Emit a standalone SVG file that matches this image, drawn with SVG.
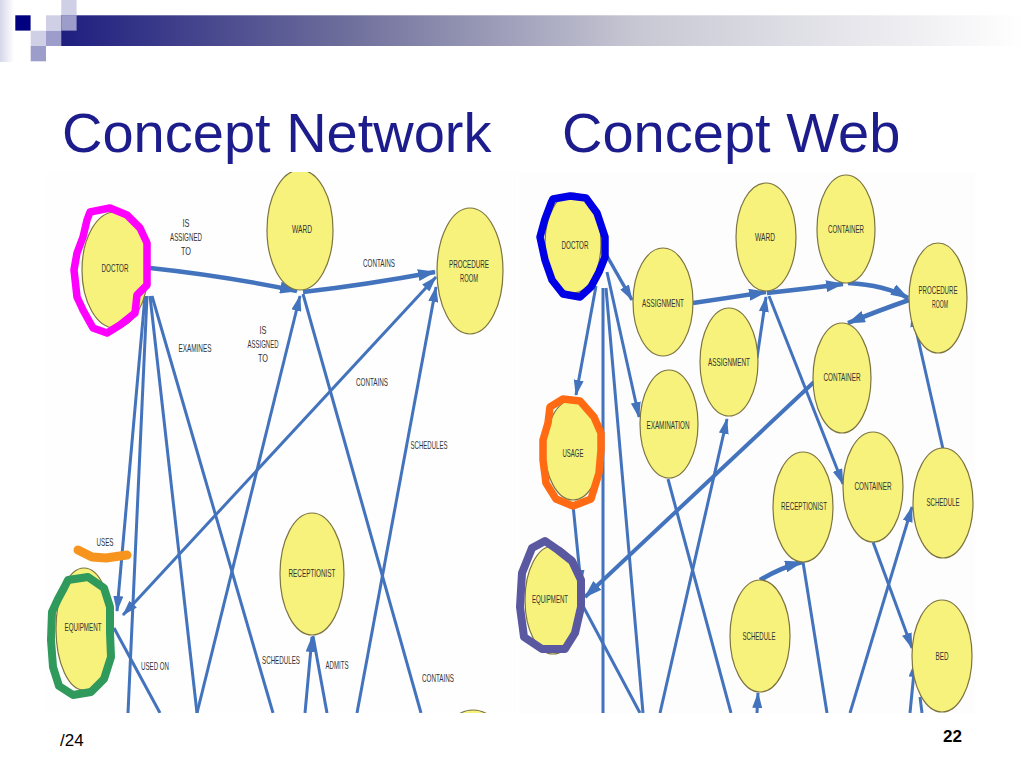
<svg xmlns="http://www.w3.org/2000/svg" width="1024" height="768" viewBox="0 0 1024 768">
<style>
.lb{font-family:"Liberation Sans",Arial,sans-serif;font-size:11px;fill:#333;text-anchor:middle}
.nd{fill:#f7f27b;stroke:#7d7440;stroke-width:1.2}
.ln{fill:none;stroke:#4373bd;stroke-width:3}
.tk{fill:none;stroke:#4373bd;stroke-width:4.5}
.hl{fill:none;stroke-width:7.5;stroke-linejoin:round;stroke-linecap:round}
.ttl{font-family:"Liberation Sans",Arial,sans-serif;font-size:56px;fill:#1c1c8c}
</style>
<defs>
<linearGradient id="bar" x1="0" y1="0" x2="1" y2="0">
<stop offset="0" stop-color="#1e1e80"/>
<stop offset="0.3" stop-color="#6f6f9c"/>
<stop offset="0.6" stop-color="#c8c8d4"/>
<stop offset="1" stop-color="#ffffff"/>
</linearGradient>
<linearGradient id="edge" x1="0" y1="0" x2="1" y2="0">
<stop offset="0" stop-color="#d6d6ea"/>
<stop offset="1" stop-color="#ffffff"/>
</linearGradient>
<marker id="ah" viewBox="0 0 16 10" refX="15" refY="5" markerWidth="16" markerHeight="10" orient="auto-start-reverse" markerUnits="userSpaceOnUse"><path d="M0,0 L16,5 L0,10 z" fill="#4373bd"/></marker>
<marker id="ahb" viewBox="0 0 18 12" refX="17" refY="6" markerWidth="18" markerHeight="12" orient="auto-start-reverse" markerUnits="userSpaceOnUse"><path d="M0,0 L18,6 L0,12 z" fill="#4373bd"/></marker>
<clipPath id="cl"><rect x="45" y="172" width="472" height="541"/></clipPath>
<clipPath id="cr"><rect x="519" y="172" width="456" height="541"/></clipPath>
</defs>
<rect width="1024" height="768" fill="#ffffff"/>
<g id="header">
<rect x="0" y="0" width="14" height="62" fill="url(#edge)"/>
<rect x="61" y="15.3" width="963" height="30.7" fill="url(#bar)"/>
<rect x="15.3" y="15.3" width="15.3" height="15.3" fill="#000080"/>
<rect x="46" y="15.3" width="15.3" height="15.3" fill="#cfcfe6"/>
<rect x="61.3" y="0" width="15.3" height="15.3" fill="#cfcfe6"/>
<rect x="61.3" y="15.3" width="15.3" height="15.3" fill="#9d9dcc"/>
<rect x="30.7" y="30.7" width="15.3" height="15.3" fill="#cfcfe6"/>
<rect x="46" y="30.7" width="15.3" height="15.3" fill="#9d9dcc"/>
<rect x="30.7" y="46" width="15.3" height="15.3" fill="#9d9dcc"/>
</g>
<text class="ttl" x="62" y="152">Concept Network</text>
<text class="ttl" x="562" y="152">Concept Web</text>

<g id="left-diagram" clip-path="url(#cl)">
<rect x="45" y="172" width="472" height="541" fill="#fefefe"/>
<g id="left-connectors">
<path class="tk" d="M150 268 Q225 276 297 291" marker-end="url(#ahb)"/>
<path class="tk" d="M303 292 Q365 285 435 272" marker-end="url(#ahb)"/>
<path class="ln" d="M145 296 L117 611" marker-end="url(#ah)"/>
<path class="ln" d="M147 296 L128 713"/>
<path class="ln" d="M150 296 L197 713"/>
<path class="ln" d="M152 296 L273 713"/>
<path class="ln" d="M197 713 L300 296" marker-end="url(#ah)"/>
<path class="ln" d="M303 294 L421 713"/>
<path class="ln" d="M123 615 L436 277" marker-start="url(#ah)" marker-end="url(#ah)"/>
<path class="ln" d="M357 713 L436 287" marker-end="url(#ah)"/>
<path class="ln" d="M305 713 L312 637" marker-end="url(#ah)"/>
<path class="ln" d="M313 636 L327 713"/>
<path class="ln" d="M114 628 L160 713"/>
</g>
<g id="l-doctor"><ellipse class="nd" cx="115" cy="270" rx="33" ry="58"/><text class="lb" x="115" y="272" textLength="27" lengthAdjust="spacingAndGlyphs">DOCTOR</text></g>
<g id="l-ward"><ellipse class="nd" cx="300" cy="230" rx="33" ry="60"/><text class="lb" x="302" y="233" textLength="20" lengthAdjust="spacingAndGlyphs">WARD</text></g>
<g id="l-procedure-room"><ellipse class="nd" cx="470" cy="271" rx="33" ry="63"/><text class="lb" x="469" y="268" textLength="40" lengthAdjust="spacingAndGlyphs">PROCEDURE</text><text class="lb" x="469" y="282" textLength="18" lengthAdjust="spacingAndGlyphs">ROOM</text></g>
<g id="l-receptionist"><ellipse class="nd" cx="312" cy="574" rx="32" ry="61"/><text class="lb" x="312" y="577" textLength="47" lengthAdjust="spacingAndGlyphs">RECEPTIONIST</text></g>
<g id="l-equipment"><ellipse class="nd" cx="84" cy="629" rx="28" ry="61"/><text class="lb" x="83" y="631" textLength="37" lengthAdjust="spacingAndGlyphs">EQUIPMENT</text></g>
<g id="l-partial"><ellipse class="nd" cx="473" cy="745" rx="30" ry="35"/></g>
<g id="left-labels">
<text class="lb" x="186" y="227" textLength="7" lengthAdjust="spacingAndGlyphs">IS</text>
<text class="lb" x="186" y="241" textLength="32" lengthAdjust="spacingAndGlyphs">ASSIGNED</text>
<text class="lb" x="186" y="255" textLength="10" lengthAdjust="spacingAndGlyphs">TO</text>
<text class="lb" x="379" y="267" textLength="32" lengthAdjust="spacingAndGlyphs">CONTAINS</text>
<text class="lb" x="195" y="352" textLength="33" lengthAdjust="spacingAndGlyphs">EXAMINES</text>
<text class="lb" x="263" y="334" textLength="7" lengthAdjust="spacingAndGlyphs">IS</text>
<text class="lb" x="263" y="348" textLength="31" lengthAdjust="spacingAndGlyphs">ASSIGNED</text>
<text class="lb" x="263" y="362" textLength="10" lengthAdjust="spacingAndGlyphs">TO</text>
<text class="lb" x="372" y="386" textLength="32" lengthAdjust="spacingAndGlyphs">CONTAINS</text>
<text class="lb" x="429" y="449" textLength="37" lengthAdjust="spacingAndGlyphs">SCHEDULES</text>
<text class="lb" x="105" y="546" textLength="17" lengthAdjust="spacingAndGlyphs">USES</text>
<text class="lb" x="155" y="670" textLength="28" lengthAdjust="spacingAndGlyphs">USED ON</text>
<text class="lb" x="281" y="664" textLength="38" lengthAdjust="spacingAndGlyphs">SCHEDULES</text>
<text class="lb" x="337" y="669" textLength="23" lengthAdjust="spacingAndGlyphs">ADMITS</text>
<text class="lb" x="438" y="682" textLength="32" lengthAdjust="spacingAndGlyphs">CONTAINS</text>
</g>
</g>

<g id="right-diagram" clip-path="url(#cr)">
<rect x="519" y="172" width="456" height="541" fill="#fdfdfd"/>
<g id="right-connectors">
<path class="ln" d="M607 256 L632 300" marker-end="url(#ah)" style="stroke-width:3.5"/>
<path class="ln" d="M596 286 L576 395" marker-end="url(#ah)"/>
<path class="ln" d="M607 272 L639 417" marker-end="url(#ah)"/>
<path class="ln" d="M603 288 L603 713"/>
<path class="ln" d="M606 288 L643 713"/>
<path class="ln" d="M573 505 L581 585" marker-end="url(#ah)"/>
<path class="ln" d="M583 606 L640 713"/>
<path class="ln" d="M660 713 L727 419" marker-end="url(#ah)"/>
<path class="ln" d="M668 479 L731 713"/>
<path class="tk" d="M814 382 L585 597" marker-end="url(#ahb)" style="stroke-width:4"/>
<path class="tk" d="M693 303 Q735 297 766 292" marker-end="url(#ahb)"/>
<path class="ln" d="M757 358 L766 297" marker-end="url(#ah)"/>
<path class="tk" d="M767 293 Q805 289 843 284" marker-end="url(#ahb)"/>
<path class="tk" d="M848 283 Q885 285 908 298" marker-end="url(#ahb)"/>
<path class="tk" d="M909 300 Q880 310 848 323" marker-end="url(#ahb)"/>
<path class="ln" d="M769 296 L843 484" marker-end="url(#ah)"/>
<path class="ln" d="M943 449 L912 312" marker-end="url(#ah)"/>
<path class="tk" d="M760 580 Q780 568 802 562" marker-end="url(#ahb)"/>
<path class="ln" d="M803 562 L827 713"/>
<path class="ln" d="M873 542 L912 648" marker-end="url(#ah)"/>
<path class="ln" d="M850 713 L912 507" marker-end="url(#ah)"/>
<path class="ln" d="M910 713 L915 662" marker-end="url(#ah)"/>
<path class="ln" d="M920 697 L922 713"/>
<path class="ln" d="M757 713 L758 693" marker-end="url(#ah)"/>
</g>
<g id="r-doctor"><ellipse class="nd" cx="573" cy="243" rx="28" ry="50"/><text class="lb" x="575" y="249" textLength="27" lengthAdjust="spacingAndGlyphs">DOCTOR</text></g>
<g id="r-assignment-1"><ellipse class="nd" cx="663" cy="302" rx="30" ry="54"/><text class="lb" x="663" y="307" textLength="42" lengthAdjust="spacingAndGlyphs">ASSIGNMENT</text></g>
<g id="r-assignment-2"><ellipse class="nd" cx="729" cy="362" rx="29" ry="54"/><text class="lb" x="729" y="366" textLength="42" lengthAdjust="spacingAndGlyphs">ASSIGNMENT</text></g>
<g id="r-examination"><ellipse class="nd" cx="669" cy="424" rx="29" ry="54"/><text class="lb" x="668" y="429" textLength="43" lengthAdjust="spacingAndGlyphs">EXAMINATION</text></g>
<g id="r-ward"><ellipse class="nd" cx="766" cy="237" rx="30" ry="54"/><text class="lb" x="765" y="241" textLength="20" lengthAdjust="spacingAndGlyphs">WARD</text></g>
<g id="r-usage"><ellipse class="nd" cx="573" cy="450" rx="28" ry="50"/><text class="lb" x="573" y="457" textLength="21" lengthAdjust="spacingAndGlyphs">USAGE</text></g>
<g id="r-container-1"><ellipse class="nd" cx="846" cy="229" rx="29" ry="54"/><text class="lb" x="846" y="233" textLength="36" lengthAdjust="spacingAndGlyphs">CONTAINER</text></g>
<g id="r-procedure-room"><ellipse class="nd" cx="938" cy="298" rx="29" ry="55"/><text class="lb" x="938" y="294" textLength="39" lengthAdjust="spacingAndGlyphs">PROCEDURE</text><text class="lb" x="940" y="308" textLength="16" lengthAdjust="spacingAndGlyphs">ROOM</text></g>
<g id="r-container-2"><ellipse class="nd" cx="842" cy="378" rx="29" ry="55"/><text class="lb" x="842" y="381" textLength="37" lengthAdjust="spacingAndGlyphs">CONTAINER</text></g>
<g id="r-receptionist"><ellipse class="nd" cx="803" cy="507" rx="30" ry="55"/><text class="lb" x="804" y="510" textLength="46" lengthAdjust="spacingAndGlyphs">RECEPTIONIST</text></g>
<g id="r-container-3"><ellipse class="nd" cx="873" cy="487" rx="30" ry="55"/><text class="lb" x="873" y="490" textLength="37" lengthAdjust="spacingAndGlyphs">CONTAINER</text></g>
<g id="r-schedule-1"><ellipse class="nd" cx="943" cy="503" rx="30" ry="55"/><text class="lb" x="943" y="506" textLength="33" lengthAdjust="spacingAndGlyphs">SCHEDULE</text></g>
<g id="r-bed"><ellipse class="nd" cx="942" cy="656" rx="30" ry="56"/><text class="lb" x="942" y="660" textLength="13" lengthAdjust="spacingAndGlyphs">BED</text></g>
<g id="r-schedule-2"><ellipse class="nd" cx="760" cy="636" rx="30" ry="56"/><text class="lb" x="759" y="640" textLength="33" lengthAdjust="spacingAndGlyphs">SCHEDULE</text></g>
<g id="r-equipment"><ellipse class="nd" cx="553" cy="600" rx="28" ry="54"/><text class="lb" x="550" y="603" textLength="36" lengthAdjust="spacingAndGlyphs">EQUIPMENT</text></g>
</g>

<g id="highlights">
<polygon class="hl" stroke="#ff00ff" points="90,212 110,208 127,215 140,228 147,243 147,285 137,295 135,313 120,325 107,333 93,328 83,310 77,297 74,270 77,253 83,237 87,220"/>
<polyline class="hl" stroke="#f7941d" style="stroke-width:9" points="78,550 92,557 106,558 127,555"/>
<polygon class="hl" stroke="#2f9a5b" style="stroke-width:8" points="68,580 88,577 104,588 110,607 110,633 111,657 104,679 91,692 73,695 59,686 53,667 51,640 52,612 58,599 64,588"/>
<polygon class="hl" stroke="#0000e6" points="553,199 570,196 586,198 597,213 605,237 605,257 599,272 591,287 580,297 563,294 552,280 545,260 540,237 545,219 551,203"/>
<polygon class="hl" stroke="#ff6a13" points="550,407 563,399 580,401 594,417 601,433 601,450 599,473 591,499 573,506 556,499 546,483 543,460 543,440 548,423"/>
<polygon class="hl" stroke="#5a58a0" style="stroke-width:8" points="545,541 558,550 572,561 581,580 581,607 575,633 565,649 542,649 524,637 520,607 522,573 532,548"/>
</g>

<text x="60" y="746" style="font-family:'Liberation Sans',Arial,sans-serif;font-size:17px;fill:#000">/24</text>
<text x="962" y="742" text-anchor="end" style="font-family:'Liberation Sans',Arial,sans-serif;font-size:17px;font-weight:bold;fill:#000">22</text>
</svg>
